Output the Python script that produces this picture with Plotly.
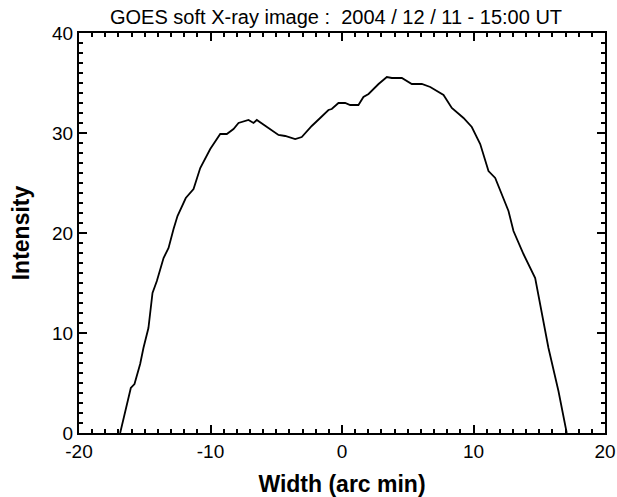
import plotly.graph_objects as go

width_arcmin = [-16.87, -16.06, -15.78, -15.35, -15.10, -14.72, -14.41, -14.08, -13.57, -13.19,
                -12.81, -12.51, -11.88, -11.29, -10.78, -10.02, -9.26, -8.76, -8.25, -7.87,
                -7.11, -6.73, -6.48, -5.84, -4.83, -4.32, -3.56, -3.06, -2.30, -1.66,
                -1.03, -0.78, -0.27, 0.24, 0.62, 1.25, 1.63, 2.02, 2.78, 3.41,
                3.79, 4.55, 5.31, 6.07, 6.71, 7.72, 8.35, 9.24, 9.87, 10.51,
                11.14, 11.65, 12.66, 13.04, 13.80, 14.69, 15.19, 15.70, 16.46, 17.09]
intensity = [0.0, 4.5, 4.9, 6.9, 8.5, 10.5, 14.0, 15.2, 17.5, 18.5,
             20.4, 21.7, 23.5, 24.4, 26.5, 28.4, 29.9, 29.9, 30.4, 31.0,
             31.3, 31.0, 31.3, 30.7, 29.8, 29.7, 29.4, 29.6, 30.7, 31.5,
             32.3, 32.4, 33.0, 33.0, 32.8, 32.8, 33.6, 33.9, 34.9, 35.6,
             35.5, 35.5, 34.9, 34.9, 34.6, 33.8, 32.5, 31.5, 30.6, 28.9,
             26.2, 25.5, 22.2, 20.2, 17.9, 15.5, 11.9, 8.5, 4.2, 0.0]

x_ticks = [-20, -10, 0, 10, 20]
y_ticks = [0, 10, 20, 30, 40]

FONT = "Liberation Sans, Arial, Helvetica"

fig = go.Figure()
fig.add_trace(go.Scatter(x=width_arcmin, y=intensity, mode="lines",
                         line=dict(color="black", width=1.8), showlegend=False,
                         hoverinfo="skip"))

axis_common = dict(
    showline=True, linecolor="black", linewidth=2, mirror="allticks",
    ticks="inside", ticklen=8, tickwidth=2, tickcolor="black",
    showgrid=False, zeroline=False, automargin=False,
    tickfont=dict(family=FONT, size=19, color="black"),
)
minor_common = dict(dtick=1, tick0=0, ticks="inside", ticklen=4, tickwidth=2, tickcolor="black")

fig.update_layout(
    width=617, height=497,
    margin=dict(l=79, r=12, t=33, b=64),
    paper_bgcolor="white", plot_bgcolor="white",
    title=dict(text="GOES soft X-ray image :&nbsp;&nbsp;2004 / 12 / 11 - 15:00 UT",
               x=0.5446, xanchor="center", xref="container",
               y=0.9648, yanchor="middle", yref="container",
               font=dict(family=FONT, size=20, color="black")),
    xaxis=dict(range=[-20, 20], tickvals=x_ticks, ticktext=[str(v) for v in x_ticks],
               minor=minor_common,
               title=dict(text="<b>Width (arc min)</b>", standoff=16,
                          font=dict(family=FONT, size=23, color="black")),
               **axis_common),
    yaxis=dict(range=[0, 40], tickvals=y_ticks, ticktext=[str(v) for v in y_ticks],
               minor=minor_common,
               title=dict(text="<b>Intensity</b>", standoff=16,
                          font=dict(family=FONT, size=23, color="black")),
               **axis_common),
)

fig.write_html("out.html",
               config={"displayModeBar": False},
               post_script="document.body.style.margin='0';document.body.style.overflow='hidden';")
